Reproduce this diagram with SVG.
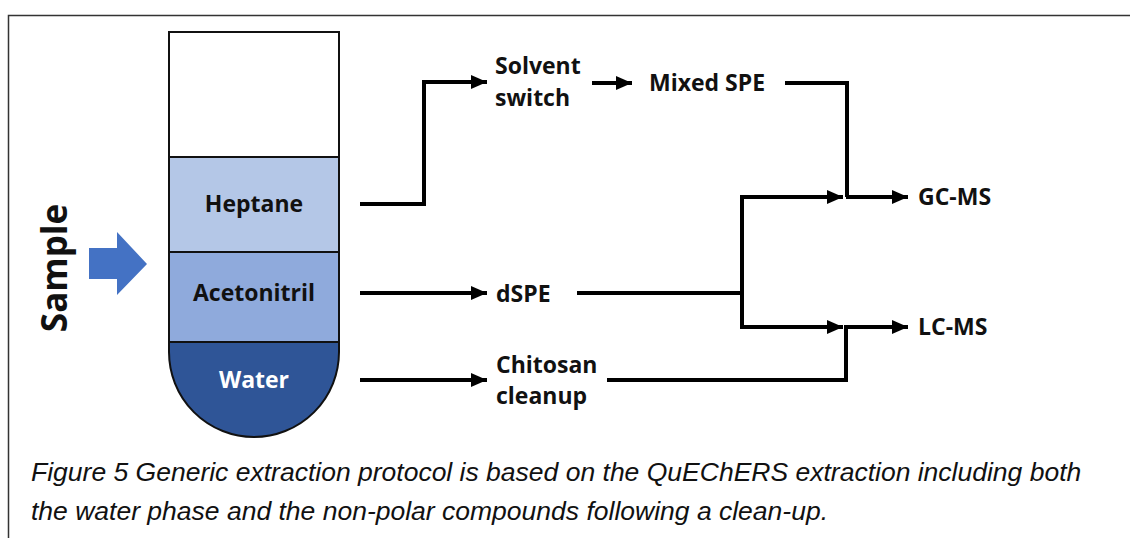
<svg xmlns="http://www.w3.org/2000/svg" width="1130" height="538" viewBox="0 0 1130 538">
<defs>
<marker id="ah" markerWidth="16" markerHeight="14" refX="16" refY="7" orient="auto" markerUnits="userSpaceOnUse">
<path d="M0,0 L16,7 L0,14 Z" fill="#000"/>
</marker>
</defs>
<style>
.lbl{font-family:"Open Sans","Liberation Sans",sans-serif;font-weight:700;font-size:23px;fill:#111}
.big{font-size:35px}
.cap{font-family:"Liberation Sans",Arial,sans-serif;font-style:italic;font-size:26.5px;fill:#111}
.ln{fill:none;stroke:#000;stroke-width:4;stroke-linejoin:miter}
.arr{marker-end:url(#ah)}
.tube{stroke:#111;stroke-width:2}
</style>
<rect width="1130" height="538" fill="#fff"/>
<path d="M8.5,538 V15.5 H1130" fill="none" stroke="#333" stroke-width="1.5"/>

<g id="sample">
<text class="lbl big" transform="translate(67,268) rotate(-90)" text-anchor="middle">Sample</text>
<path d="M89,248 H117 V232 L147,264 L117,295 V279 H89 Z" fill="#4472c4"/>
</g>

<g id="tube">
<rect class="tube" x="169" y="32" width="170" height="125" fill="#fff"/>
<rect class="tube" x="169" y="157" width="170" height="95" fill="#b4c7e7"/>
<rect class="tube" x="169" y="252" width="170" height="90" fill="#8faadc"/>
<path class="tube" d="M169,342 V352 A85,85 0 0 0 339,352 V342 Z" fill="#2f5597"/>
</g>
<g id="heptane"><text class="lbl" x="254" y="212" text-anchor="middle">Heptane</text></g>
<g id="acetonitril"><text class="lbl" x="254" y="301" text-anchor="middle">Acetonitril</text></g>
<g id="water"><text class="lbl" x="254" y="388" text-anchor="middle" style="fill:#fff">Water</text></g>

<g id="solvent-switch"><text class="lbl" x="495" y="74">Solvent</text><text class="lbl" x="495" y="106">switch</text></g>
<g id="mixed-spe"><text class="lbl" x="649" y="91">Mixed SPE</text></g>
<g id="dspe"><text class="lbl" x="496" y="302">dSPE</text></g>
<g id="chitosan"><text class="lbl" x="496" y="373">Chitosan</text><text class="lbl" x="496" y="404">cleanup</text></g>
<g id="gc-ms"><text class="lbl" x="918" y="205">GC-MS</text></g>
<g id="lc-ms"><text class="lbl" x="918" y="335">LC-MS</text></g>

<g id="connectors">
<path class="ln arr" d="M360,204 H424 V82 H487"/>
<path class="ln arr" d="M592,83 H632"/>
<path class="ln" d="M785,83 H847 V197"/>
<path class="ln arr" d="M846,197 H908"/>
<path class="ln arr" d="M360,293 H487"/>
<path class="ln" d="M577,293 H742"/>
<path class="ln arr" d="M742,293 V197 H843"/>
<path class="ln arr" d="M742,293 V327 H843"/>
<path class="ln arr" d="M607,380 H846 V327 H908"/>
<path class="ln arr" d="M360,380 H487"/>
</g>

<g id="caption">
<text class="cap" x="31" y="481">Figure 5 Generic extraction protocol is based on the QuEChERS extraction including both</text>
<text class="cap" x="31" y="520">the water phase and the non-polar compounds following a clean-up.</text>
</g>
</svg>
